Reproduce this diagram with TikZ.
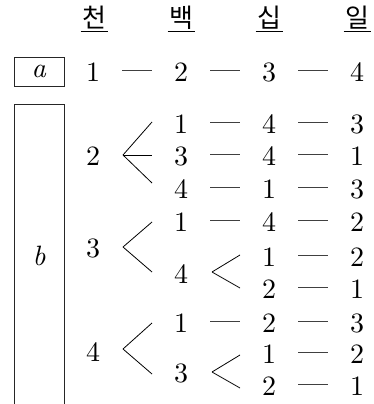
\documentclass[tikz,border=0pt]{standalone}
\usepackage{fontspec}
\setmainfont{lmroman10-regular}[Extension=.otf, ItalicFont=lmroman10-italic]
\newfontfamily\krfont{Noto Sans CJK KR}
\usetikzlibrary{calc}
\begin{document}
\begin{tikzpicture}[x=1pt,y=-1pt,
  num/.style={inner sep=0pt, font=\fontsize{28}{32}\selectfont},
  hdr/.style={inner sep=0pt, font=\krfont\fontsize{26}{30}\selectfont},
  uline/.style={line width=0.8pt},
  dashline/.style={line width=1.1pt, black!75, shorten <=29pt, shorten >=29pt},
  branch/.style={line width=0.8pt},
  boxline/.style={draw=black!85, line width=0.8pt}]
\useasboundingbox (0,0) rectangle (374,404);
% headers
\node[hdr] (h1) at (94,17.5) {천};
\node[hdr] (h2) at (181,17.5) {백};
\node[hdr] (h3) at (269,17.5) {십};
\node[hdr] (h4) at (357,17.5) {일};
\foreach \h in {h1,h2,h3,h4}
  \draw[uline] ($(\h.center)+(-13.5,14)$) -- ($(\h.center)+(13.5,14)$);
% boxes
\node[boxline, num, minimum width=50pt, minimum height=29pt] (boxa) at (39,71.5) {\textit{a}};
\draw[boxline] (14,430) |- (64,104) -- (64,430);
\node[num] (lb) at (39,256) {\textit{b}};
% row a
\node[num] (a1) at (93,72) {1};
\node[num] (a2) at (181,72) {2};
\node[num] (a3) at (269,72) {3};
\node[num] (a4) at (357,72) {4};
% level 1
\node[num] (p2) at (93,156) {2};
\node[num] (p3) at (93,248) {3};
\node[num] (p4) at (93,352) {4};
% level 2
\node[num] (r1b) at (181,124) {1};
\node[num] (r2b) at (181,156) {3};
\node[num] (r3b) at (181,189) {4};
\node[num] (r4b) at (181,222) {1};
\node[num] (s4)  at (181,274) {4};
\node[num] (r7b) at (181,323) {1};
\node[num] (s3)  at (181,373) {3};
% level 3
\node[num] (r1c) at (269,124) {4};
\node[num] (r2c) at (269,156) {4};
\node[num] (r3c) at (269,189) {1};
\node[num] (r4c) at (269,222) {4};
\node[num] (r5c) at (269,257) {1};
\node[num] (r6c) at (269,289) {2};
\node[num] (r7c) at (269,323) {2};
\node[num] (r8c) at (269,354) {1};
\node[num] (r9c) at (269,386) {2};
% level 4
\node[num] (r1d) at (357,124) {3};
\node[num] (r2d) at (357,156) {1};
\node[num] (r3d) at (357,189) {3};
\node[num] (r4d) at (357,222) {2};
\node[num] (r5d) at (357,257) {2};
\node[num] (r6d) at (357,289) {1};
\node[num] (r7d) at (357,323) {3};
\node[num] (r8d) at (357,354) {2};
\node[num] (r9d) at (357,386) {1};
% dashes
\foreach \u/\v in {a1/a2,a2/a3,a3/a4,
  r1b/r1c,r1c/r1d,r2b/r2c,r2c/r2d,r3b/r3c,r3c/r3d,r4b/r4c,r4c/r4d,
  r5c/r5d,r6c/r6d,r7b/r7c,r7c/r7d,r8c/r8d,r9c/r9d}
  \draw[dashline] ([yshift=1.5pt]\u.center) -- ([yshift=1.5pt]\v.center);
% branch apexes
\coordinate (x2) at ($(p2.center)+(30,-1)$);
\coordinate (x3) at ($(p3.center)+(30,-1)$);
\coordinate (x4) at ($(p4.center)+(30,-3)$);
\coordinate (y4) at ($(s4.center)+(31,-2)$);
\coordinate (y3) at ($(s3.center)+(31,-1)$);
% branches
\draw[branch] (x2) -- ($(r1b.center)+(-29,-2)$);
\draw[branch] (x2) -- ($(r2b.center)+(-29,-1)$);
\draw[branch] (x2) -- ($(r3b.center)+(-29,-6)$);
\draw[branch] (x3) -- ($(r4b.center)+(-29,0)$);
\draw[branch] (x3) -- ($(s4.center)+(-29,-2)$);
\draw[branch] (x4) -- ($(r7b.center)+(-29,0)$);
\draw[branch] (x4) -- ($(s3.center)+(-29,1)$);
\draw[branch] (y4) -- ($(r5c.center)+(-29,-2)$);
\draw[branch] (y4) -- ($(r6c.center)+(-29,-1)$);
\draw[branch] (y3) -- ($(r8c.center)+(-29,1)$);
\draw[branch] (y3) -- ($(r9c.center)+(-29,2)$);
\end{tikzpicture}
\end{document}
